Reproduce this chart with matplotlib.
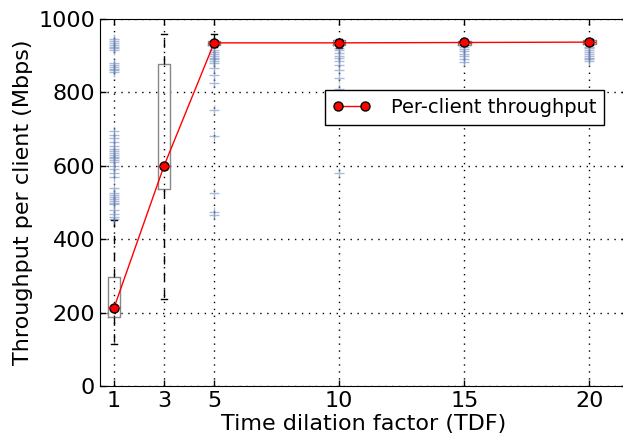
import matplotlib
matplotlib.use("Agg")
import matplotlib.pyplot as plt

# TDF values and box statistics
tdf = [1, 3, 5, 10, 15, 20]
q1 = [188, 538, 930, 928, 930, 932]
q3 = [297, 878, 940, 942, 940, 942]
medians = [215, 600, 935, 935, 935, 937]
whis_lo = [114, 238, 925, 922, 928, 928]
whis_hi = [452, 960, 958, 946, 942, 945]
fliers = [
    [945, 940, 935, 930, 925, 920, 915, 880, 875, 870, 865, 860, 855,
     695, 685, 675, 665, 655, 645, 640, 635, 630, 625, 620, 615, 610,
     600, 590, 580, 570,
     540, 525, 520, 515, 510, 505, 500, 495, 480, 470, 460, 455],
    [],
    [915, 910, 905, 900, 895, 890, 885, 880, 866, 847, 826, 752, 681,
     526, 474, 467],
    [920, 915, 908, 900, 895, 885, 875, 860, 840, 810, 580],
    [925, 918, 912, 905, 898, 890, 882],
    [925, 920, 915, 910, 905, 900, 895, 890, 885],
]
per_client = [213, 600, 935, 935, 936, 937]

plt.rcParams['font.family'] = ['DejaVu Sans']

fig = plt.figure(figsize=(6.23, 4.37), dpi=100)
ax = fig.add_axes([100 / 623, 51 / 437, 527 / 623, 367 / 437])

stats = []
for i in range(len(tdf)):
    stats.append(dict(med=medians[i], q1=q1[i], q3=q3[i],
                      whislo=whis_lo[i], whishi=whis_hi[i],
                      fliers=fliers[i]))

ax.bxp(stats, positions=tdf, widths=0.5,
       boxprops=dict(color='#888888', linewidth=1),
       medianprops=dict(color='red', linewidth=1),
       whiskerprops=dict(color='black', linestyle=(0, (6, 6)), linewidth=1),
       capprops=dict(color='black', linewidth=1),
       flierprops=dict(marker='+', markeredgecolor='#6a86b8',
                       markersize=7, alpha=0.55, linestyle='none'))

ax.plot(tdf, per_client, '-o', color='red', markerfacecolor='red',
        markeredgecolor='black', markersize=6.5, linewidth=1,
        label='Per-client throughput')

ax.set_xlim(0.44, 21.5)
ax.set_ylim(0, 1000)
ax.set_xticks(tdf)
ax.set_xticklabels([str(t) for t in tdf])
ax.set_yticks(range(0, 1001, 200))
ax.tick_params(direction='in', labelsize=16, top=True, right=True,
               length=4, width=1)
ax.grid(True, linestyle=(0, (1, 4)), color='black', linewidth=1)

ax.set_xlabel('Time dilation factor (TDF)', fontsize=16, labelpad=2)
ax.set_ylabel('Throughput per client (Mbps)', fontsize=16)

leg = ax.legend(loc='upper right', numpoints=2, fontsize=14,
                bbox_to_anchor=(604 / 623, 1 - 90 / 437),
                bbox_transform=fig.transFigure, borderaxespad=0,
                fancybox=False, framealpha=1, handlelength=2.0,
                borderpad=0.4, handletextpad=1.0)
leg.get_frame().set_edgecolor('black')

fig.savefig('out.png', dpi=100)
